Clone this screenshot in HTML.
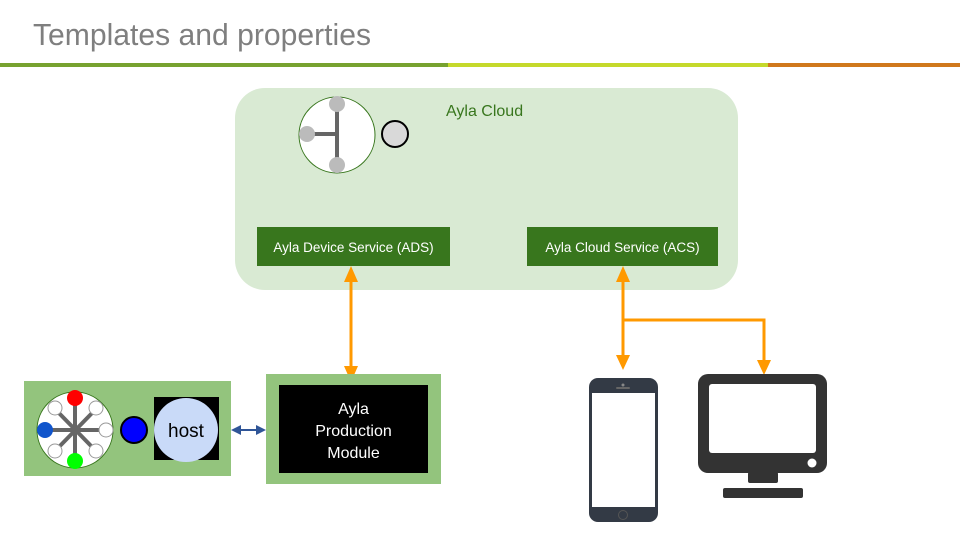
<!DOCTYPE html>
<html><head><meta charset="utf-8"><style>
html,body{margin:0;padding:0;background:#fff;}
svg{display:block;}
text{font-family:"Liberation Sans",sans-serif;}
</style></head><body>
<svg width="960" height="540" viewBox="0 0 960 540" xmlns="http://www.w3.org/2000/svg">
<text x="33" y="45" font-size="31" fill="#7f7f7f" textLength="338" lengthAdjust="spacingAndGlyphs">Templates and properties</text>
<rect x="0" y="63" width="448" height="4" fill="#77a22f"/>
<rect x="448" y="63" width="320" height="4" fill="#c5d92b"/>
<rect x="768" y="63" width="192" height="4" fill="#d0781c"/>

<rect x="235" y="88" width="503" height="202" rx="30" fill="#d9ead3"/>
<text x="446" y="116" font-size="16" fill="#38761d">Ayla Cloud</text>
<circle cx="337" cy="135" r="38" fill="#fff" stroke="#38761d" stroke-width="1"/>
<line x1="337" y1="104" x2="337" y2="164" stroke="#666" stroke-width="4"/>
<line x1="307" y1="134" x2="337" y2="134" stroke="#666" stroke-width="4"/>
<circle cx="337" cy="104" r="8" fill="#bbb"/>
<circle cx="337" cy="165" r="8" fill="#bbb"/>
<circle cx="307" cy="134" r="8" fill="#bbb"/>
<circle cx="395" cy="134" r="13" fill="#d9d9d9" stroke="#000" stroke-width="2"/>

<rect x="257" y="227" width="193" height="39" fill="#38761d"/>
<text x="353.5" y="252" font-size="13.5" fill="#fff" text-anchor="middle">Ayla Device Service (ADS)</text>
<rect x="527" y="227" width="191" height="39" fill="#38761d"/>
<text x="622.5" y="252" font-size="13.5" fill="#fff" text-anchor="middle">Ayla Cloud Service (ACS)</text>

<g stroke="#ff9900" stroke-width="3" fill="none">
<line x1="351" y1="280" x2="351" y2="368"/>
<polyline points="623,280 623,320 764,320 764,362"/>
<line x1="623" y1="320" x2="623" y2="356"/>
</g>
<g fill="#ff9900">
<polygon points="344,282 358,282 351,266"/>
<polygon points="344,366 358,366 351,382"/>
<polygon points="616,282 630,282 623,266"/>
<polygon points="616,355 630,355 623,370"/>
<polygon points="757,360 771,360 764,375"/>
</g>

<rect x="24" y="381" width="207" height="95" fill="#93c47d"/>
<circle cx="75" cy="430" r="38" fill="#fff" stroke="#38761d" stroke-width="1"/>
<g stroke="#666" stroke-width="4">
<line x1="75" y1="398" x2="75" y2="462"/><line x1="44" y1="430" x2="106" y2="430"/>
<line x1="55" y1="409" x2="96" y2="451"/><line x1="96" y1="409" x2="55" y2="451"/>
</g>
<g fill="#fff" stroke="#999" stroke-width="1">
<circle cx="55" cy="408" r="7"/><circle cx="96" cy="408" r="7"/>
<circle cx="106" cy="430" r="7"/><circle cx="55" cy="451" r="7"/><circle cx="96" cy="451" r="7"/>
</g>
<circle cx="75" cy="398" r="8" fill="#f00"/>
<circle cx="75" cy="461" r="8" fill="#0f0"/>
<circle cx="45" cy="430" r="8" fill="#1155cc"/>
<circle cx="134" cy="430" r="13" fill="#00f" stroke="#000" stroke-width="2"/>
<rect x="154" y="397" width="65" height="63" fill="#000"/>
<circle cx="186" cy="430" r="32" fill="#c9daf8"/>
<text x="186" y="437" font-size="19" fill="#000" text-anchor="middle">host</text>

<line x1="238" y1="430" x2="260" y2="430" stroke="#2f5597" stroke-width="2"/>
<polygon points="231,430 241,425 241,435" fill="#2f5597"/>
<polygon points="266,430 256,425 256,435" fill="#2f5597"/>

<rect x="266" y="374" width="175" height="110" fill="#93c47d"/>
<rect x="279" y="385" width="149" height="88" fill="#000"/>
<text x="353.5" y="414" font-size="16" fill="#fff" text-anchor="middle">Ayla</text>
<text x="353.5" y="436" font-size="16" fill="#fff" text-anchor="middle">Production</text>
<text x="353.5" y="458" font-size="16" fill="#fff" text-anchor="middle">Module</text>

<rect x="589" y="378" width="69" height="144" rx="9" fill="#333a45"/>
<rect x="592" y="393" width="63" height="114" fill="#fff"/>
<circle cx="623" cy="385" r="1.5" fill="#888"/>
<rect x="616" y="387" width="14" height="2" rx="1" fill="#666"/>
<circle cx="623" cy="515" r="4.5" fill="none" stroke="#555" stroke-width="1"/>

<rect x="698" y="374" width="129" height="99" rx="10" fill="#333"/>
<rect x="709" y="384" width="107" height="69" rx="3" fill="#fff"/>
<circle cx="812" cy="463" r="4.5" fill="#fff"/>
<rect x="748" y="472" width="30" height="11" rx="2" fill="#333"/>
<rect x="723" y="488" width="80" height="10" rx="2" fill="#333"/>
</svg>
</body></html>
